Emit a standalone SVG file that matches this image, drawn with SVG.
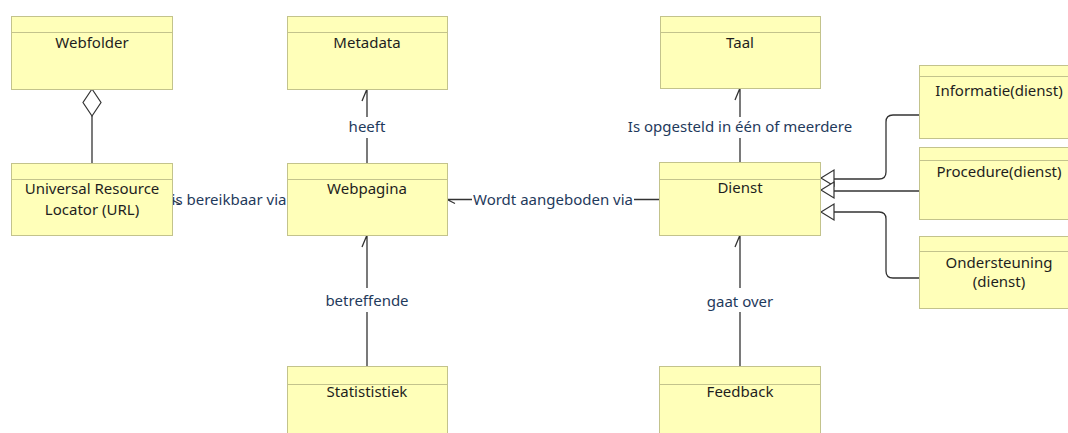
<svg xmlns="http://www.w3.org/2000/svg" width="1068" height="433" viewBox="0 0 1068 433">
<style>
.box{fill:#ffffb9;stroke:#c3c38c;stroke-width:1}
.div{stroke:#c3c38c;stroke-width:1}
.nt{font-family:"Segoe UI","Noto Sans",sans-serif;font-size:15px;fill:#1e1e1e;text-anchor:middle}
.lt{font-family:"Segoe UI","Noto Sans",sans-serif;font-size:15px;fill:#1f3a5c;text-anchor:middle}
.ln{fill:none;stroke:#333333;stroke-width:1.3}
.tri{fill:#ffffff;stroke:#333333;stroke-width:1.2}
</style>
<rect width="1068" height="433" fill="#ffffff"/>
<g id="connectors">
  <!-- Webfolder aggregation URL -->
  <path class="ln" d="M92,116 V163"/>
  <path class="tri" d="M92,89 L101,102.5 L92,116 L83,102.5 Z"/>
  <!-- URL - Webpagina -->
  <path class="ln" d="M172,200 L180,204"/>
  <!-- Webpagina -> Metadata -->
  <path class="ln" d="M367,163 V138 M367,117 V89 M367,89 L362,101"/>
  <!-- Statististiek -> Webpagina -->
  <path class="ln" d="M367,366 V312 M367,288 V235 M367,235 L362,247"/>
  <!-- Dienst -> Webpagina -->
  <path class="ln" d="M659,199.5 H634 M472,199.5 H447 M447,199.5 L455,203.5"/>
  <!-- Dienst -> Taal -->
  <path class="ln" d="M740,162 V138 M740,117 V88 M740,88 L735,100"/>
  <!-- Feedback -> Dienst -->
  <path class="ln" d="M740,366 V312 M740,288 V235 M740,235 L735,247"/>
  <!-- generalizations -->
  <path class="ln" d="M834,179 H879 Q886,179 886,172 V122 Q886,115 893,115 H919"/>
  <path class="ln" d="M834,191 H919"/>
  <path class="ln" d="M834,212 H879 Q886,212 886,219 V271 Q886,278 893,278 H919"/>
  <path class="tri" d="M821,178 L834,170 L834,186 Z"/>
  <path class="tri" d="M821,190 L834,182 L834,198 Z"/>
  <path class="tri" d="M821,212 L834,204 L834,220 Z"/>
  <text class="lt" x="367" y="132">heeft</text>
  <text class="lt" x="740" y="132">Is opgesteld in één of meerdere</text>
  <text class="lt" x="367" y="306">betreffende</text>
  <text class="lt" x="740" y="307">gaat over</text>
  <text class="lt" x="553" y="205">Wordt aangeboden via</text>
  <text class="lt" x="229" y="205">is bereikbaar via</text>
</g>
<g id="webfolder">
  <rect class="box" x="11.5" y="16.5" width="161" height="73"/>
  <line class="div" x1="11.5" y1="32.5" x2="172.5" y2="32.5"/>
  <text class="nt" x="92" y="48">Webfolder</text>
</g>
<g id="url">
  <rect class="box" x="11.5" y="163.5" width="161" height="72"/>
  <line class="div" x1="11.5" y1="179.5" x2="172.5" y2="179.5"/>
  <text class="nt" x="92" y="194">Universal Resource</text>
  <text class="nt" x="92" y="215">Locator (URL)</text>
</g>
<g id="metadata">
  <rect class="box" x="287.5" y="16.5" width="160" height="73"/>
  <line class="div" x1="287.5" y1="32.5" x2="447.5" y2="32.5"/>
  <text class="nt" x="367" y="48">Metadata</text>
</g>
<g id="webpagina">
  <rect class="box" x="287.5" y="163.5" width="160" height="72"/>
  <line class="div" x1="287.5" y1="179.5" x2="447.5" y2="179.5"/>
  <text class="nt" x="367" y="194">Webpagina</text>
</g>
<g id="statististiek">
  <rect class="box" x="287.5" y="366.5" width="160" height="80"/>
  <line class="div" x1="287.5" y1="384.5" x2="447.5" y2="384.5"/>
  <text class="nt" x="367" y="397">Statististiek</text>
</g>
<g id="taal">
  <rect class="box" x="660.5" y="16.5" width="160" height="72"/>
  <line class="div" x1="660.5" y1="32.5" x2="820.5" y2="32.5"/>
  <text class="nt" x="740" y="48">Taal</text>
</g>
<g id="dienst">
  <rect class="box" x="659.5" y="162.5" width="161" height="73"/>
  <line class="div" x1="659.5" y1="179.5" x2="820.5" y2="179.5"/>
  <text class="nt" x="740" y="193">Dienst</text>
</g>
<g id="feedback">
  <rect class="box" x="659.5" y="366.5" width="161" height="80"/>
  <line class="div" x1="659.5" y1="384.5" x2="820.5" y2="384.5"/>
  <text class="nt" x="740" y="397">Feedback</text>
</g>
<g id="informatie">
  <rect class="box" x="919.5" y="65.5" width="160" height="73"/>
  <line class="div" x1="919.5" y1="76.5" x2="1079.5" y2="76.5"/>
  <text class="nt" x="999" y="96">Informatie(dienst)</text>
</g>
<g id="procedure">
  <rect class="box" x="919.5" y="147.5" width="160" height="72"/>
  <line class="div" x1="919.5" y1="160.5" x2="1079.5" y2="160.5"/>
  <text class="nt" x="999" y="177">Procedure(dienst)</text>
</g>
<g id="ondersteuning">
  <rect class="box" x="919.5" y="236.5" width="160" height="72"/>
  <line class="div" x1="919.5" y1="251.5" x2="1079.5" y2="251.5"/>
  <text class="nt" x="999" y="268">Ondersteuning</text>
  <text class="nt" x="999" y="287">(dienst)</text>
</g>
</svg>
